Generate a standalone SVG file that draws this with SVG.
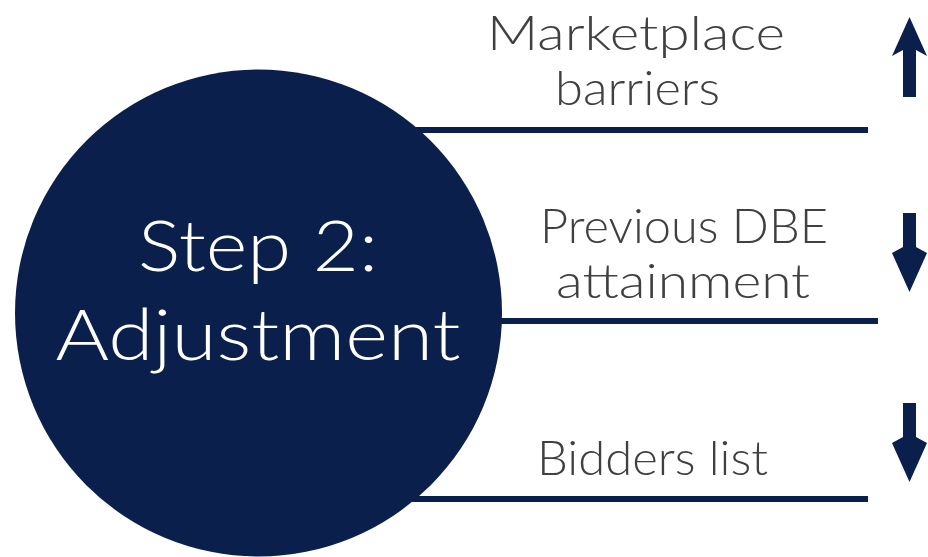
<svg xmlns="http://www.w3.org/2000/svg" width="928" height="557" viewBox="0 0 928 557">
  <style>
    .line { stroke: #0A1F4B; stroke-width: 6; fill: none; }
    .arrow { fill: #0A1F4B; }
    .lbl { font-family: "Lato", "Noto Sans", "Liberation Sans", sans-serif; font-weight: 300; font-size: 48px; fill: #404040; text-anchor: middle; }
    .main { font-family: "Lato", "Noto Sans", "Liberation Sans", sans-serif; font-weight: 300; font-size: 70px; fill: #FFFFFF; text-anchor: middle; }
  </style>
  <rect width="928" height="557" fill="#FFFFFF"/>
  <g id="connectors">
    <line class="line" x1="400" y1="130" x2="868" y2="130"/>
    <line class="line" x1="400" y1="321" x2="878" y2="321"/>
    <line class="line" x1="400" y1="499" x2="868" y2="499"/>
  </g>
  <g id="step2">
    <circle cx="258.5" cy="313" r="243.5" fill="#0A1F4B"/>
    <text class="main" x="258" y="271" textLength="240" lengthAdjust="spacingAndGlyphs">Step 2:</text>
    <text class="main" x="258" y="360" textLength="405" lengthAdjust="spacingAndGlyphs">Adjustment</text>
  </g>
  <g id="marketplace">
    <text class="lbl" x="636" y="50" textLength="298" lengthAdjust="spacingAndGlyphs">Marketplace</text>
    <text class="lbl" x="637.5" y="105" textLength="165" lengthAdjust="spacingAndGlyphs">barriers</text>
    <polygon class="arrow" points="909.5,17 927,56 916,50 916,97 903,97 903,50 892,56"/>
  </g>
  <g id="previous">
    <text class="lbl" x="684" y="243" textLength="288" lengthAdjust="spacingAndGlyphs">Previous DBE</text>
    <text class="lbl" x="683" y="298" textLength="254" lengthAdjust="spacingAndGlyphs">attainment</text>
    <polygon class="arrow" points="903,213 916,213 916,247 927,253 909.5,292 892,253 903,247"/>
  </g>
  <g id="bidders">
    <text class="lbl" x="652.5" y="475" textLength="231" lengthAdjust="spacingAndGlyphs">Bidders list</text>
    <polygon class="arrow" points="903,403 916,403 916,437 927,443 909.5,482 892,443 903,437"/>
  </g>
</svg>
